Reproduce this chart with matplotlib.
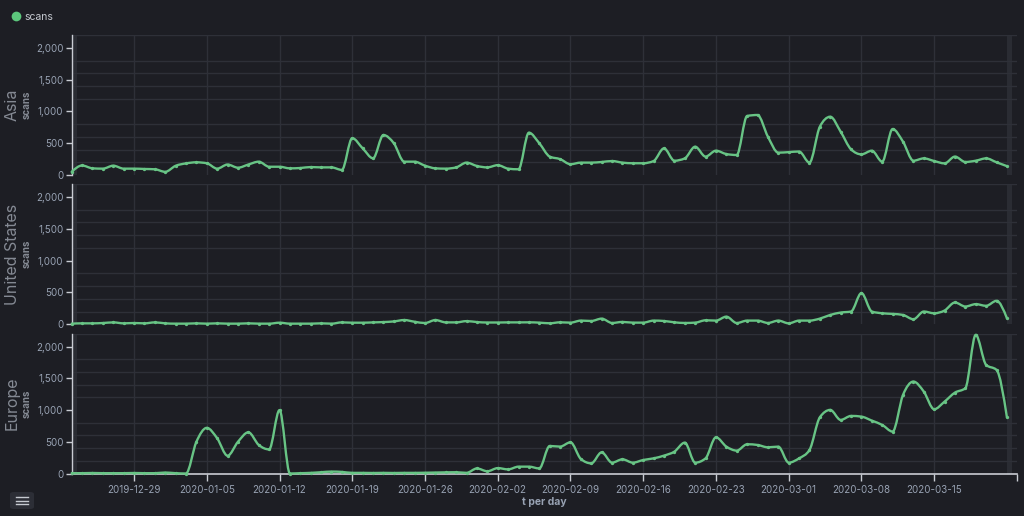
import numpy as np
import pandas as pd
import matplotlib
matplotlib.use("Agg")
import matplotlib.pyplot as plt
import matplotlib.dates as mdates
from matplotlib.path import Path
from matplotlib.patches import PathPatch, FancyBboxPatch
from matplotlib.ticker import FuncFormatter, MultipleLocator, FixedLocator

plt.rcParams['font.family'] = ['Inter', 'DejaVu Sans']

# ---------------- data ----------------
dates = pd.date_range("2019-12-23", "2020-03-22", freq="D")
tick_dates = pd.date_range("2019-12-29", "2020-03-15", freq="7D")

regions = ["Asia", "United States", "Europe"]

asia = [50, 150, 105, 100, 147, 100, 100, 95, 90, 50,
        145, 183, 200, 185, 100, 165, 115, 165, 210, 130,
        130, 105, 110, 125, 120, 120, 80, 580, 420, 263,
        630, 500, 210, 210, 147, 105, 100, 120, 195, 142,
        120, 155, 100, 90, 667, 500, 290, 250, 170, 195,
        195, 205, 220, 195, 185, 185, 220, 420, 225, 262,
        446, 290, 383, 330, 315, 930, 945, 603, 352, 360,
        370, 195, 762, 918, 682, 404, 325, 383, 210, 724,
        525, 225, 262, 220, 183, 290, 205, 225, 262, 200,
        140]

united_states = [10, 15, 15, 20, 30, 15, 20, 15, 30, 15,
                 10, 10, 15, 10, 15, 10, 10, 15, 10, 10,
                 25, 10, 10, 10, 15, 10, 30, 25, 25, 30,
                 35, 45, 67, 40, 20, 67, 30, 30, 50, 35,
                 28, 28, 30, 30, 31, 26, 16, 31, 26, 58,
                 52, 89, 21, 37, 26, 26, 58, 52, 31, 21,
                 26, 63, 58, 120, 20, 58, 58, 21, 58, 15,
                 58, 58, 89, 147, 184, 200, 490, 200, 173, 163,
                 147, 79, 200, 173, 216, 342, 279, 316, 290, 368,
                 95]

europe = [5, 5, 8, 5, 5, 5, 8, 5, 5, 15,
          5, 0, 500, 720, 555, 280, 500, 650, 450, 380,
          1000, 0, 5, 10, 20, 30, 25, 10, 10, 8,
          10, 8, 10, 10, 12, 15, 18, 20, 10, 80,
          35, 85, 65, 108, 108, 80, 434, 424, 492, 229,
          160, 334, 171, 224, 171, 213, 239, 282, 345, 487,
          171, 239, 571, 424, 361, 461, 450, 413, 424, 171,
          239, 371, 887, 1003, 845, 908, 897, 834, 766, 661,
          1239, 1450, 1292, 1013, 1134, 1276, 1345, 2187, 1713, 1634,
          887]

series = [asia, united_states, europe]
series_name = "scans"
x_title = "t per day"

# ---------------- style ----------------
BG = "#1d1e24"
GRID = "#2e3038"
AXIS = "#c9ccd3"
TXT = "#98a2b3"
LABEL = "#858a94"
LINE = "#68c485"

W, H = 1024, 516
fig = plt.figure(figsize=(W / 100, H / 100), dpi=100, facecolor=BG)

def monotone_path(xs, ys):
    xs = np.asarray(xs, float)
    ys = np.asarray(ys, float)
    n = len(xs)
    h = np.diff(xs)
    s = np.diff(ys) / h
    t = np.zeros(n)
    for i in range(1, n - 1):
        p = (s[i - 1] * h[i] + s[i] * h[i - 1]) / (h[i - 1] + h[i])
        t[i] = (np.sign(s[i - 1]) + np.sign(s[i])) * min(abs(s[i - 1]), abs(s[i]), 0.5 * abs(p))
    t[0] = (3 * s[0] - t[1]) / 2
    t[-1] = (3 * s[-1] - t[-2]) / 2
    verts = [(xs[0], ys[0])]
    codes = [Path.MOVETO]
    for i in range(n - 1):
        dx = h[i] / 3
        verts += [(xs[i] + dx, ys[i] + t[i] * dx),
                  (xs[i + 1] - dx, ys[i + 1] - t[i + 1] * dx),
                  (xs[i + 1], ys[i + 1])]
        codes += [Path.CURVE4] * 3
    return Path(verts, codes)

x_num = mdates.date2num(dates.to_pydatetime())
tick_num = mdates.date2num(tick_dates.to_pydatetime())
x_min = x_num[0]
x_max = x_num[-1] + 1

panels = [(35.3, 175.0), (184.0, 324.3), (334.0, 473.5)]
left_px, right_px = 71.7, 1017.3

for k, (top, bot) in enumerate(panels):
    ax = fig.add_axes([left_px / W, 1 - bot / H, (right_px - left_px) / W, (bot - top) / H])
    ax.set_facecolor(BG)
    ax.set_xlim(x_min, x_max)
    ax.set_ylim(0, 2200)
    # partial-bucket shading
    ax.axvspan(x_num[0], x_num[0] + 0.5, color="#2a2c33", zorder=0, lw=0)
    ax.axvspan(x_num[-1], x_num[-1] + 0.5, color="#2a2c33", zorder=0, lw=0)
    # grid
    ax.yaxis.set_minor_locator(MultipleLocator(200))
    ax.yaxis.set_major_locator(MultipleLocator(500))
    ax.grid(False)
    ax.grid(True, which="minor", axis="y", color=GRID, lw=1.0, zorder=0.5)
    ax.xaxis.set_major_locator(FixedLocator(tick_num))
    ax.xaxis.set_minor_locator(FixedLocator([x_max]))
    ax.xaxis.set_major_formatter(mdates.DateFormatter("%Y-%m-%d"))
    ax.grid(True, which="major", axis="x", color=GRID, lw=1.0, zorder=0.5)
    ax.set_axisbelow(True)
    ax.yaxis.set_major_formatter(FuncFormatter(lambda v, p: f"{v:,.0f}"))
    ax.tick_params(axis="y", which="major", colors=AXIS, labelcolor=TXT, labelsize=7, length=4, width=1, pad=2)
    ax.tick_params(axis="y", which="minor", length=0)
    for sp in ["top", "right", "bottom"]:
        ax.spines[sp].set_visible(False)
    ax.spines["left"].set_color(AXIS)
    ax.spines["left"].set_linewidth(1.0)
    if k < 2:
        ax.tick_params(axis="x", which="both", bottom=False, labelbottom=False)
    else:
        ax.spines["bottom"].set_visible(True)
        ax.spines["bottom"].set_color(AXIS)
        ax.spines["bottom"].set_linewidth(1.2)
        ax.tick_params(axis="x", which="both", colors=AXIS, labelcolor=TXT, labelsize=7, length=5, width=1, pad=3)
        ax.set_xlabel(x_title, color=TXT, fontsize=7.5, fontweight="bold", labelpad=2)
    vals = series[k]
    patch = PathPatch(monotone_path(x_num, vals), fill=False, edgecolor=LINE, lw=1.7,
                      zorder=3, capstyle="round", joinstyle="round", clip_on=False)
    ax.add_patch(patch)
    ax.plot(x_num, vals, linestyle="none", marker="o", ms=2.4, color=LINE,
            markeredgewidth=0, zorder=4, clip_on=False)
    cy = 1 - (top + bot) / 2 / H
    fig.text(12.5 / W, cy, regions[k], rotation=90, ha="center", va="center",
             color=LABEL, fontsize=11.5)
    fig.text(26.5 / W, cy, series_name, rotation=90, ha="center", va="center",
             color=LABEL, fontsize=7, fontweight="bold")

# legend
fig.add_artist(plt.Line2D([16 / W], [1 - 16 / H], transform=fig.transFigure,
                          marker="o", ms=7, color="#5cc77c", markeredgewidth=0, linestyle="none"))
fig.text(24 / W, 1 - 16.5 / H, series_name, ha="left", va="center", color="#c6cad1", fontsize=7.5)

# bottom-left button
btn = FancyBboxPatch((10 / W, 1 - 509 / H), 24 / W, 17 / H,
                     boxstyle="round,pad=0,rounding_size=0.004",
                     transform=fig.transFigure, facecolor="#2c2e36", edgecolor="none")
fig.add_artist(btn)
for yy in [497, 500.5, 504]:
    fig.add_artist(plt.Line2D([16 / W, 17.5 / W], [1 - yy / H, 1 - yy / H],
                              transform=fig.transFigure, color="#c6cad1", lw=1.0))
    fig.add_artist(plt.Line2D([19 / W, 28 / W], [1 - yy / H, 1 - yy / H],
                              transform=fig.transFigure, color="#c6cad1", lw=1.0))

fig.savefig("out.png", dpi=100, facecolor=BG)
